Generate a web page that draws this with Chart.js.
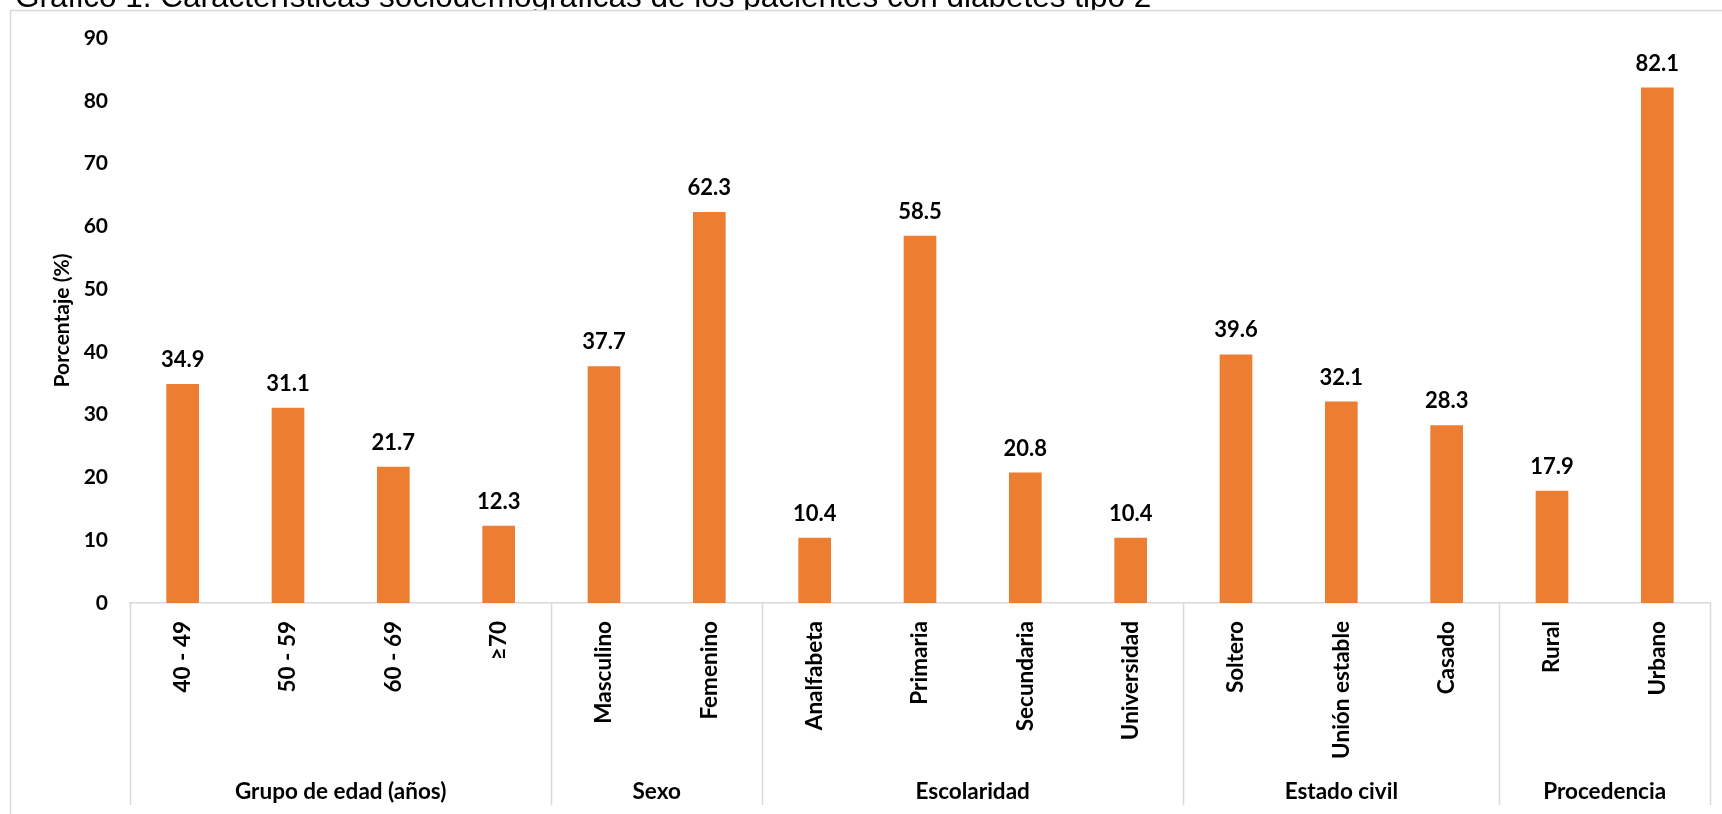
<!DOCTYPE html>
<html>
<head>
<meta charset="utf-8">
<script src="https://cdn.jsdelivr.net/npm/chart.js@4.4.1/dist/chart.umd.min.js"></script>
<style>
  body { margin: 0; background: #fff; }
  canvas { display: block; }
</style>
</head>
<body>
<canvas id="chart" width="1722" height="814"></canvas>
<script>
const titleText = "Gráfico 1. Características sociodemográficas de los pacientes con diabetes tipo 2";
const categories = ["40 - 49", "50 - 59", "60 - 69", "≥70", "Masculino", "Femenino",
  "Analfabeta", "Primaria", "Secundaria", "Universidad",
  "Soltero", "Unión estable", "Casado", "Rural", "Urbano"];
const percentages = [34.9, 31.1, 21.7, 12.3, 37.7, 62.3, 10.4, 58.5, 20.8, 10.4, 39.6, 32.1, 28.3, 17.9, 82.1];
const groupNames = ["Grupo de edad (años)", "Sexo", "Escolaridad", "Estado civil", "Procedencia"];
const groupSizes = [4, 2, 4, 3, 2];
const yTicks = [0, 10, 20, 30, 40, 50, 60, 70, 80, 90];

const barColor = "#ED7D31";
const lineColor = "#d9d9d9";

// frame, title, value labels and the group boxes under the axis
const decorations = {
  id: "decorations",
  beforeDraw(chart) {
    const ctx = chart.ctx;
    ctx.save();
    ctx.fillStyle = "#fff";
    ctx.fillRect(0, 0, chart.width, chart.height);
    ctx.fillStyle = "#000";
    ctx.font = "31.5px 'Liberation Sans'";
    ctx.textBaseline = "alphabetic";
    ctx.textAlign = "left";
    ctx.fillText(titleText, 15, 7);
    ctx.fillStyle = "#fff";
    ctx.fillRect(10, 10, chart.width, chart.height);
    ctx.strokeStyle = lineColor;
    ctx.lineWidth = 1.5;
    ctx.strokeRect(10.5, 10.5, chart.width + 20, chart.height + 20);
    ctx.restore();
  },
  afterDraw(chart) {
    const ctx = chart.ctx;
    const x = chart.scales.x;
    const area = chart.chartArea;
    const meta = chart.getDatasetMeta(0);
    ctx.save();

    // value labels
    ctx.fillStyle = "#000";
    ctx.font = "bold 22px Lato";
    ctx.textAlign = "center";
    ctx.textBaseline = "middle";
    meta.data.forEach((bar, i) => {
      ctx.fillText(percentages[i].toFixed(1), bar.x, bar.y - 24);
    });

    // group separators and group names
    const bottom = 805;
    ctx.strokeStyle = lineColor;
    ctx.lineWidth = 1.5;
    const edge = (i) => {
      if (i <= 0) return area.left;
      if (i >= categories.length) return area.right;
      return (x.getPixelForValue(i - 1) + x.getPixelForValue(i)) / 2;
    };
    let start = 0;
    const edges = [0];
    groupSizes.forEach((n) => { start += n; edges.push(start); });
    edges.forEach((i) => {
      const px = Math.round(edge(i)) + 0.5;
      ctx.beginPath();
      ctx.moveTo(px, area.bottom);
      ctx.lineTo(px, bottom);
      ctx.stroke();
    });
    ctx.fillStyle = "#000";
    ctx.font = "bold 22.5px Lato";
    groupNames.forEach((name, g) => {
      const cx = (edge(edges[g]) + edge(edges[g + 1])) / 2;
      ctx.fillText(name, cx, 792);
    });
    ctx.restore();
  }
};

new Chart(document.getElementById("chart").getContext("2d"), {
  type: "bar",
  data: {
    labels: categories,
    datasets: [
      {
        data: percentages,
        backgroundColor: barColor,
        borderWidth: 0,
        barPercentage: 0.31,
        categoryPercentage: 1,
      },
    ],
  },
  options: {
    responsive: false,
    animation: false,
    devicePixelRatio: 1,
    layout: {
      padding: { top: 38, right: 12, bottom: 0, left: 0 },
    },
    plugins: {
      legend: { display: false },
      tooltip: { enabled: false },
    },
    scales: {
      x: {
        grid: { display: false, drawTicks: false },
        border: { display: true, color: lineColor, width: 1.5 },
        ticks: {
          color: "#000",
          font: { family: "Lato", weight: "bold", size: 22.5 },
          maxRotation: 90,
          minRotation: 90,
          autoSkip: false,
          padding: 18,
        },
        afterFit(scale) {
          scale.height = 211;
        },
      },
      y: {
        min: 0,
        max: 90,
        afterBuildTicks(scale) {
          scale.ticks = yTicks.map((v) => ({ value: v }));
        },
        grid: { display: false, drawTicks: false },
        border: { display: false },
        ticks: {
          color: "#000",
          font: { family: "Lato", weight: "bold", size: 21 },
          padding: 22,
        },
        title: {
          display: true,
          text: "Porcentaje (%)",
          color: "#000",
          font: { family: "Lato", weight: "bold", size: 21 },
          padding: { top: 50, bottom: 0 },
        },
        afterFit(scale) {
          scale.width = 130;
        },
      },
    },
  },
  plugins: [decorations],
});
</script>
</body>
</html>
